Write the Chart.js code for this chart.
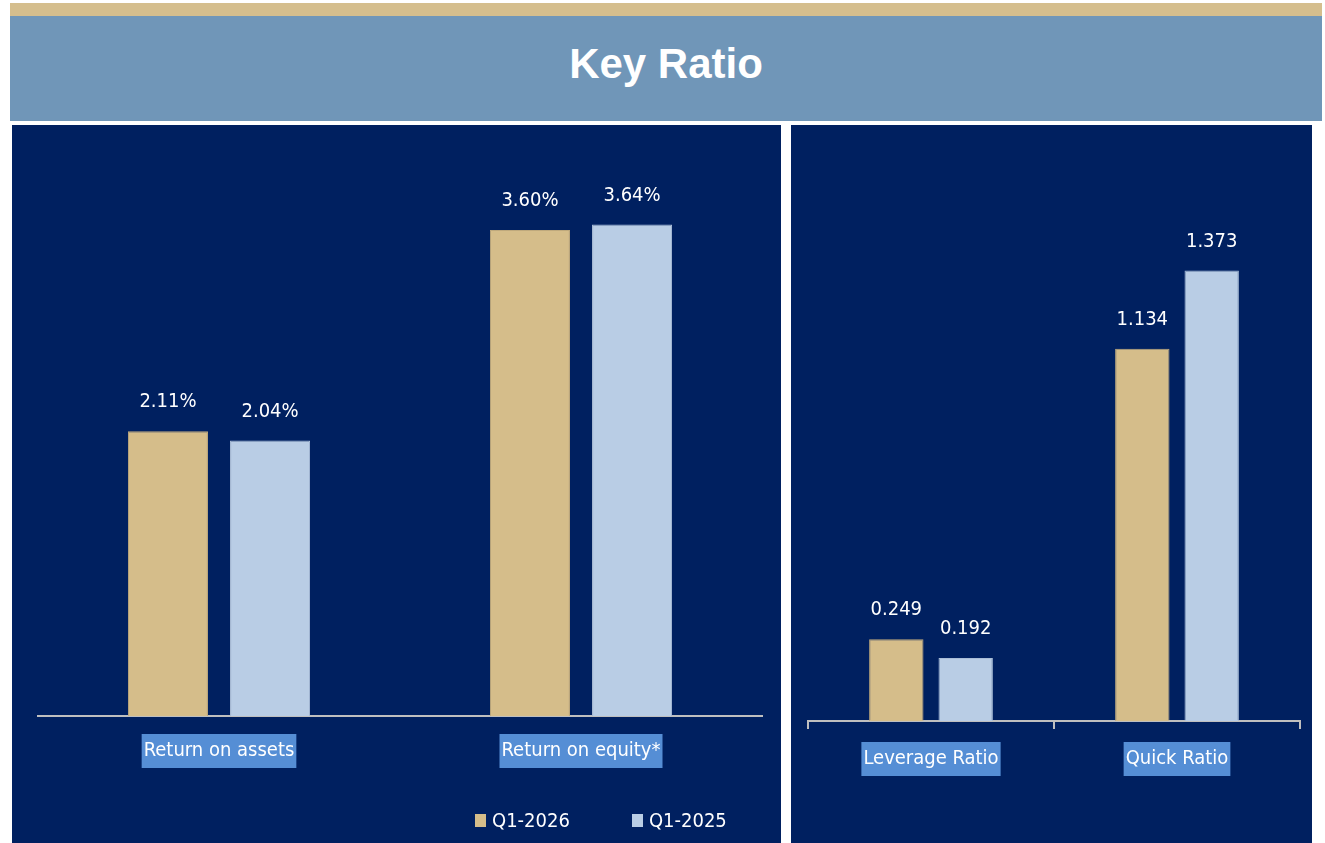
<!DOCTYPE html>
<html lang="en">
<head>
    <meta charset="UTF-8">
    <title>Key Ratio</title>
    <script src="https://cdn.jsdelivr.net/npm/chart.js"></script>
    <style>
        body {
            margin: 0;
            background: #ffffff;
            width: 1325px;
            height: 843px;
            position: relative;
            overflow: hidden;
            font-family: 'Liberation Sans Narrow', 'DejaVu Sans Condensed', sans-serif;
        }
        .stripe {
            position: absolute;
            left: 10px; top: 3px;
            width: 1312px; height: 13px;
            background: #d5be8d;
        }
        .header {
            position: absolute;
            left: 10px; top: 16px;
            width: 1312px; height: 105px;
            box-sizing: border-box;
            padding-bottom: 10px;
            background: #7096b8;
            color: #ffffff;
            display: flex;
            align-items: center;
            justify-content: center;
            font-family: 'Liberation Sans', Arial, sans-serif;
            font-weight: bold;
            font-size: 42px;
        }
        .panel {
            position: absolute;
            top: 125px;
            height: 718px;
            background: #002060;
        }
        #leftPanel { left: 12px; width: 769px; }
        #rightPanel { left: 791px; width: 521px; }
        .legend {
            position: absolute;
            left: 475px; top: 808px;
            color: #ffffff;
            font-size: 20px;
            display: flex;
        }
        .legend span.item { display: flex; align-items: center; margin-right: 62px; }
        .legend i { display: inline-block; width: 11px; height: 13px; margin-right: 6px; }
    </style>
</head>
<body>
    <div class="stripe"></div>
    <div class="header">Key Ratio</div>
    <div class="panel" id="leftPanel"><canvas id="returnsChart" width="769" height="718"></canvas></div>
    <div class="panel" id="rightPanel"><canvas id="ratiosChart" width="521" height="718"></canvas></div>
    <div class="legend" id="legend"></div>

    <script>
        // Data
        const seriesLabels = ['Q1-2026', 'Q1-2025'];
        const seriesColors = ['#d5bd8a', '#b9cde5'];

        const returnCategories = ['Return on assets', 'Return on equity*'];
        const returnsQ1_2026 = [2.11, 3.60];
        const returnsQ1_2025 = [2.04, 3.64];

        const ratioCategories = ['Leverage Ratio', 'Quick Ratio'];
        const ratiosQ1_2026 = [0.249, 1.134];
        const ratiosQ1_2025 = [0.192, 1.373];

        const labelFont = "'Liberation Sans Narrow', 'DejaVu Sans Condensed', sans-serif";

        // draws the value above each bar
        const valueLabels = {
            id: 'valueLabels',
            afterDatasetsDraw(chart, args, opts) {
                const ctx = chart.ctx;
                ctx.save();
                ctx.fillStyle = '#ffffff';
                ctx.font = '20px ' + labelFont;
                ctx.textAlign = 'center';
                ctx.textBaseline = 'middle';
                chart.data.datasets.forEach((ds, i) => {
                    chart.getDatasetMeta(i).data.forEach((bar, j) => {
                        ctx.fillText(opts.format(ds.data[j]), bar.x, bar.y - 29);
                    });
                });
                ctx.restore();
            }
        };

        function makeDatasets(a, b) {
            return [a, b].map((vals, i) => ({
                label: seriesLabels[i],
                data: vals,
                backgroundColor: seriesColors[i],
                borderColor: i === 0 ? '#bfa97c' : '#a9bdd6',
                borderWidth: 1,
                categoryPercentage: 0.564,
                barPercentage: 0.784
            }));
        }

        function xAxis(withTicks, pad) {
            return {
                grid: {
                    display: withTicks,
                    drawOnChartArea: false,
                    drawTicks: withTicks,
                    tickLength: 8,
                    color: '#bfbfbf',
                    lineWidth: 2
                },
                border: { display: true, color: '#bfbfbf', width: 2 },
                ticks: {
                    color: '#ffffff',
                    font: { family: labelFont, size: 20 },
                    padding: pad,
                    showLabelBackdrop: true,
                    backdropColor: '#558ed5',
                    backdropPadding: { top: 5, bottom: 5, left: 2, right: 2 }
                }
            };
        }

        new Chart(document.getElementById('returnsChart'), {
            type: 'bar',
            data: { labels: returnCategories, datasets: makeDatasets(returnsQ1_2026, returnsQ1_2025) },
            options: {
                responsive: false,
                animation: false,
                layout: { padding: { left: 26, right: 19, top: 24, bottom: 57 } },
                scales: {
                    x: xAxis(false, 23),
                    y: { display: false, min: 0, max: 4.2 }
                },
                plugins: {
                    legend: { display: false },
                    tooltip: { enabled: false },
                    valueLabels: { format: v => v.toFixed(2) + '%' }
                }
            },
            plugins: [valueLabels]
        });

        new Chart(document.getElementById('ratiosChart'), {
            type: 'bar',
            data: { labels: ratioCategories, datasets: makeDatasets(ratiosQ1_2026, ratiosQ1_2025) },
            options: {
                responsive: false,
                animation: false,
                layout: { padding: { left: 17, right: 12, top: 25, bottom: 54 } },
                scales: {
                    x: xAxis(true, 18),
                    y: { display: false, min: 0, max: 1.74 }
                },
                plugins: {
                    legend: { display: false },
                    tooltip: { enabled: false },
                    valueLabels: { format: v => v.toFixed(3) }
                }
            },
            plugins: [valueLabels]
        });

        // legend for the left panel
        document.getElementById('legend').innerHTML = seriesLabels.map((s, i) =>
            `<span class="item"><i style="background:${seriesColors[i]}"></i>${s}</span>`
        ).join('');
    </script>
</body>
</html>
